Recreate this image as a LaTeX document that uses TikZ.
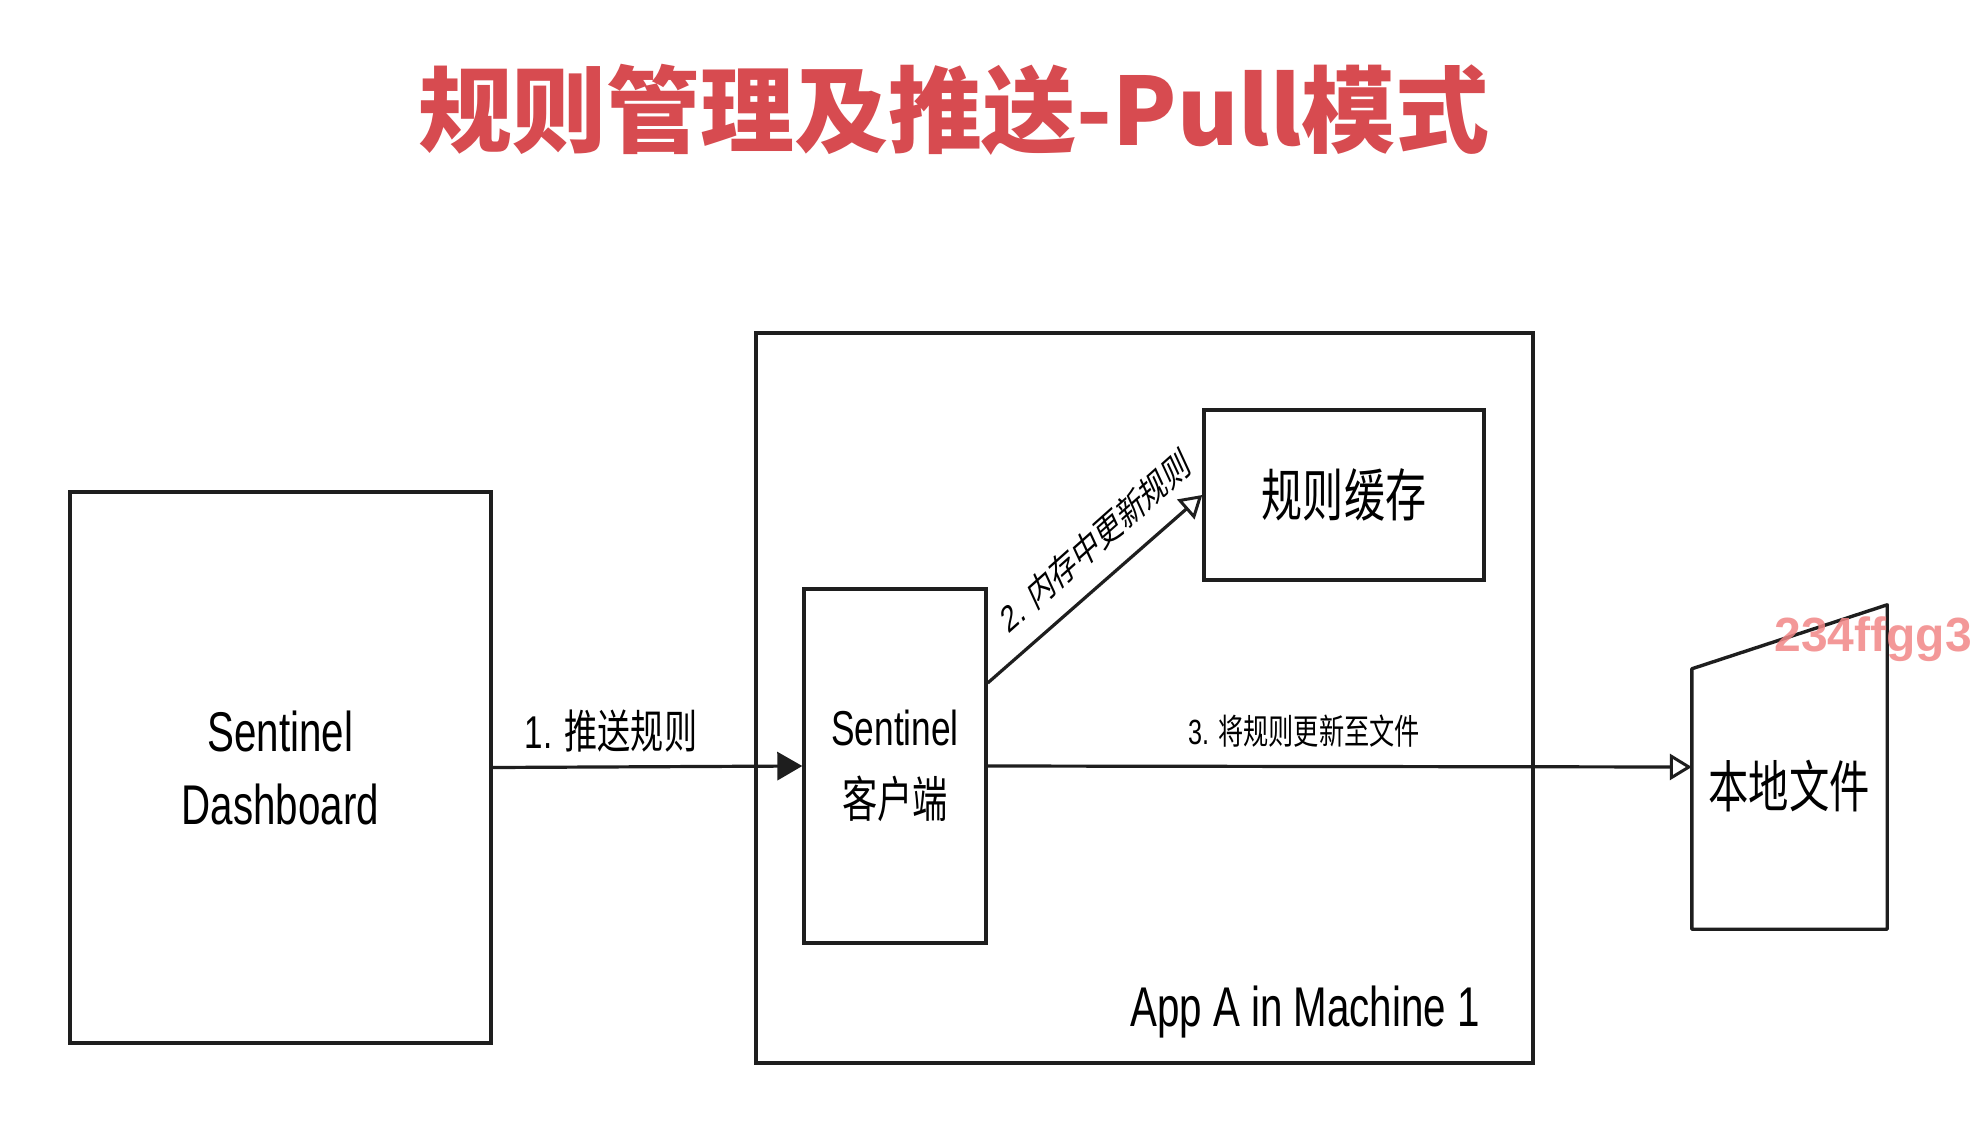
\documentclass[tikz,border=0pt]{standalone}
\usepackage{fontspec}
\usetikzlibrary{arrows.meta,calc}
\newfontfamily\latf[FakeStretch=0.72]{Liberation Sans}
\newfontfamily\cjkf[FakeStretch=0.72]{Noto Sans CJK SC}
\newfontfamily\titlef{Noto Sans CJK SC}
\newfontfamily\wmf{Liberation Sans}
\definecolor{titlered}{RGB}{215,75,80}
\definecolor{wmpink}{RGB}{242,135,135}
\definecolor{ink}{RGB}{30,30,30}
\tikzset{
  box/.style={draw=ink, line width=3.4pt, inner sep=0pt, align=center},
  conn/.style={draw=ink, line width=3.2pt},
  solidhead/.style={-{Triangle[length=25pt,width=28pt]}},
  openhead/.style={-{Triangle[open,length=22pt,width=26pt,line width=3pt]}},
}
\begin{document}
\begin{tikzpicture}[x=1pt,y=-1pt]
\useasboundingbox[fill=white] (0,0) rectangle (1972,1132);

% title
\node[text=titlered, inner sep=0pt, font={\titlef\bfseries\fontsize{94}{110}\selectfont}] (title) at (954,110)
  {规则管理及推送-Pull模式};

% boxes
\node[box, minimum width=421pt, minimum height=551pt, font={\latf\fontsize{56}{73}\selectfont}] (dash) at (280.5,767.5)
  {Sentinel\\Dashboard};
\node[box, minimum width=777pt, minimum height=730pt] (app) at (1144.5,698) {};
\node[inner sep=0pt, anchor=base east, font={\latf\fontsize{56}{66}\selectfont}] (applabel) at (1480,1026)
  {App A in Machine 1};
\node[box, minimum width=182pt, minimum height=354pt, font={\latf\fontsize{49}{72}\selectfont}] (client) at (895,766)
  {Sentinel\\{\cjkf 客户端}};
\node[box, minimum width=280pt, minimum height=170pt, font={\cjkf\fontsize{57}{66}\selectfont}] (cache) at (1344,495)
  {规则缓存};

% file shape
\node[inner sep=0pt, minimum width=195pt, minimum height=324pt] (file) at (1789.5,767) {};
\draw[conn, line width=3.4pt, line join=round] ($(file.north west)+(0,64)$) -- (file.north east)
  -- (file.south east) -- (file.south west) -- cycle;
\node[inner sep=0pt, font={\cjkf\fontsize{56}{66}\selectfont}] (filetext) at (1789,786)
  {本地文件};

% connectors
\draw[conn, solidhead] (dash.east) -- (client.west);
\draw[conn, openhead] ($(client.east)+(0,-83)$) coordinate (c2start) -- (cache.west);
\draw[conn, openhead] (client.east) -- (file.west);

% labels
\node[inner sep=0pt, anchor=base, font={\latf\fontsize{46}{50}\selectfont}] (l1) at (611,748)
  {1. {\cjkf 推送规则}};
\node[inner sep=0pt, anchor=base, font={\latf\fontsize{35}{40}\selectfont}] (l3) at (1304,744)
  {3. {\cjkf 将规则更新至文件}};
\node[inner sep=0pt] (l2) at (1095,541)
  {\scalebox{0.72}[1]{\rotatebox{32.7}{\wmf\fontsize{37}{40}\selectfont 2. {\titlef 内存中更新规则}}}};

% watermark
\node[inner sep=0pt, anchor=base east, text=wmpink, text opacity=0.85, font={\wmf\bfseries\fontsize{48}{52}\selectfont}] (wm) at (1972,651)
  {234ffgg3};
\end{tikzpicture}
\end{document}
